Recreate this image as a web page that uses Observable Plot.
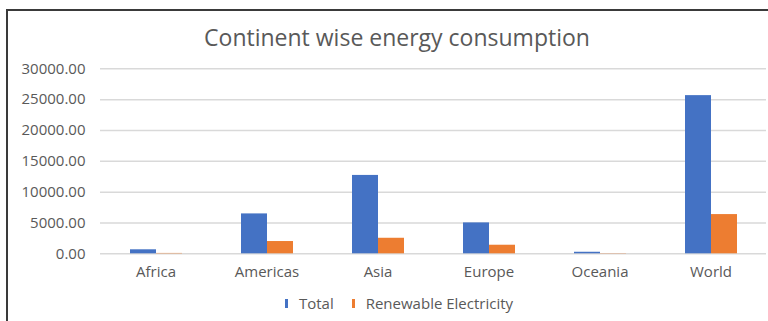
<!DOCTYPE html>
<html>
<head>
<meta charset="utf-8">
<script src="https://cdn.jsdelivr.net/npm/d3@7"></script>
<script src="https://cdn.jsdelivr.net/npm/@observablehq/plot@0.6"></script>
<style>
  html, body { margin: 0; padding: 0; background: #fff; }
  #chart {
    position: relative; width: 768px; height: 321px; overflow: hidden;
    background: #fff; font-family: "Open Sans", sans-serif; color: #595959;
  }
  #frame {
    position: absolute; left: 6px; top: 9px; width: 900px; height: 500px;
    border-left: 2px solid #3a3a3a; border-top: 2px solid #3a3a3a;
  }
  #title {
    position: absolute; left: 0; width: 794px; top: 21px; text-align: center;
    font-size: 23px; line-height: 32px; color: #595959;
  }
  #plot { position: absolute; left: 0; top: 60px; }
  #legend {
    position: absolute; left: 0; width: 768px; top: 293px; height: 20px;
    display: flex; justify-content: center; align-items: center;
    font-size: 15px; color: #595959; padding-left: 30px; box-sizing: border-box;
  }
  .item { display: flex; align-items: center; margin: 0 9px; }
  .swatch { width: 3px; height: 9px; margin-right: 11px; }
</style>
</head>
<body>
<div id="chart">
  <div id="frame"></div>
  <div id="title">Continent wise energy consumption</div>
  <div id="plot"></div>
  <div id="legend"></div>
</div>
<script>
// Energy consumption by continent
const continents = ["Africa", "Americas", "Asia", "Europe", "Oceania", "World"];
const totalValues = [650, 6470, 12710, 5010, 250, 25650];
const renewableValues = [60, 1990, 2520, 1390, 40, 6360];
const seriesNames = ["Total", "Renewable Electricity"];
const seriesColors = ["#4472C4", "#ED7D31"];
const yTicks = [0, 5000, 10000, 15000, 20000, 25000, 30000];

const rows = continents.flatMap((c, i) => [
  {continent: c, series: seriesNames[0], value: totalValues[i]},
  {continent: c, series: seriesNames[1], value: renewableValues[i]}
]);

const chart = Plot.plot({
  width: 768,
  height: 225,
  marginTop: 8.3,
  marginBottom: 31.7,
  marginLeft: 100,
  marginRight: 2,
  style: {fontFamily: "'Open Sans', sans-serif", fontSize: "15px", color: "#595959", background: "transparent", overflow: "visible"},
  fx: {domain: continents, padding: 0, label: null, axis: "bottom", tickSize: 0, tickPadding: 13},
  x: {domain: seriesNames, axis: null, paddingInner: 0, paddingOuter: 1.13},
  y: {domain: [0, 30000], ticks: yTicks, tickFormat: d3.format(".2f"), tickSize: 0, tickPadding: 15, label: null},
  color: {domain: seriesNames, range: seriesColors},
  marks: [
    Plot.ruleY(yTicks, {stroke: "#d9d9d9", strokeWidth: 1.5}),
    Plot.barY(rows, {fx: "continent", x: "series", y: "value", fill: "series"})
  ]
});
document.getElementById("plot").appendChild(chart);

// Legend below the plot
const legend = d3.select("#legend");
seriesNames.forEach((name, i) => {
  const item = legend.append("div").attr("class", "item");
  item.append("div").attr("class", "swatch").style("background", seriesColors[i]);
  item.append("span").text(name);
});
</script>
</body>
</html>
